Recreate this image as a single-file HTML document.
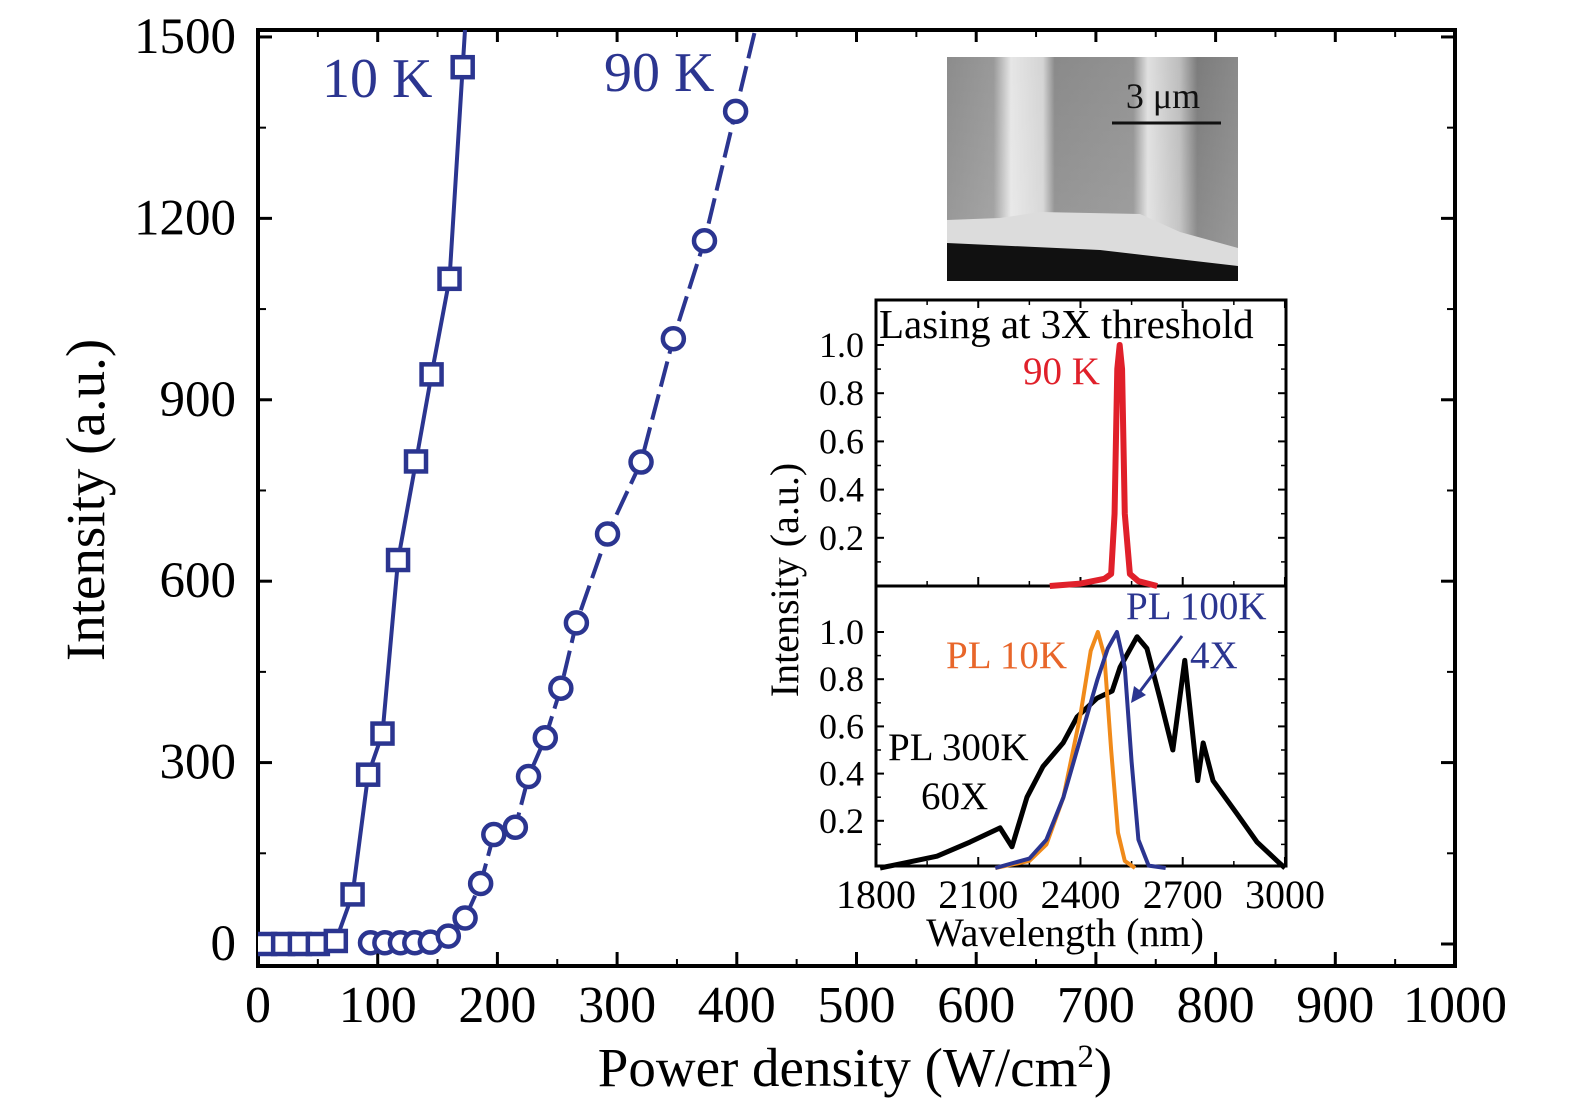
<!DOCTYPE html>
<html><head><meta charset="utf-8"><style>
html,body{margin:0;padding:0;background:#fff}
svg{display:block;font-family:"Liberation Serif",serif}
</style></head><body>
<svg id="c" width="1575" height="1110" viewBox="0 0 1575 1110" xmlns="http://www.w3.org/2000/svg">
<defs>
<linearGradient id="sem" x1="0" x2="1" y1="0" y2="0">
<stop offset="0" stop-color="#8c8c8c"/><stop offset="0.16" stop-color="#999"/><stop offset="0.22" stop-color="#e6e6e6"/><stop offset="0.33" stop-color="#d4d4d4"/><stop offset="0.37" stop-color="#8a8a8a"/><stop offset="0.64" stop-color="#929292"/><stop offset="0.69" stop-color="#e0e0e0"/><stop offset="0.8" stop-color="#bdbdbd"/><stop offset="0.86" stop-color="#7c7c7c"/><stop offset="1" stop-color="#8a8a8a"/>
</linearGradient>
<linearGradient id="semv" x1="0" x2="0" y1="0" y2="1">
<stop offset="0" stop-color="#fff" stop-opacity="0"/><stop offset="1" stop-color="#fff" stop-opacity="0.15"/>
</linearGradient>
</defs>
<g id="main"></g>
<g id="inset"></g>
</svg>
<script>
const tenK_x=[6,21,35,50,65,79,92,104,117,132,145,160,171];
const tenK_y=[0,0,0,0,5,82,280,348,635,798,942,1100,1450];
const ninetyK_x=[94,106,119,131,144,159,173,186,197,215,226,240,253,266,292,320,347,373,399];
const ninetyK_y=[2,2,2,2,3,13,43,100,181,193,277,341,423,531,678,797,1001,1163,1377];
const xTicks=[0,100,200,300,400,500,600,700,800,900,1000];
const yTicks=[0,300,600,900,1200,1500];
const redL=[2310,2400,2470,2490,2500,2508,2515,2522,2530,2545,2570,2625];
const redI=[0,0.01,0.03,0.05,0.3,0.9,1.0,0.9,0.3,0.05,0.02,0];
const orangeL=[2150,2250,2300,2350,2400,2430,2451,2470,2490,2510,2530,2560];
const orangeI=[0,0.03,0.1,0.3,0.65,0.92,1.0,0.9,0.5,0.15,0.03,0];
const blueL=[2150,2250,2300,2350,2400,2450,2480,2507,2530,2550,2570,2600,2650];
const blueI=[0,0.04,0.12,0.3,0.55,0.8,0.93,1.0,0.85,0.45,0.12,0.01,0];
const blackL=[1812,1879,1979,2076,2164,2199,2243,2290,2349,2390,2449,2493,2516,2566,2595,2633,2671,2706,2744,2760,2789,2859,2918,2977,3000];
const blackI=[0,0.02,0.05,0.11,0.17,0.09,0.30,0.43,0.53,0.64,0.72,0.75,0.85,0.98,0.93,0.72,0.50,0.88,0.37,0.53,0.37,0.23,0.11,0.03,0];
const insetXTicks=[1800,2100,2400,2700,3000];
const insetYTicks=[0.2,0.4,0.6,0.8,1.0];

const NS="http://www.w3.org/2000/svg";
function mk(parent,tag,attrs,text){const e=document.createElementNS(NS,tag);for(const k in attrs)e.setAttribute(k,attrs[k]);if(text!==undefined)e.textContent=text;parent.appendChild(e);return e;}
const BLUE="#2b3590";
const X=v=>258+v*1.197, Y=v=>944-v*0.6047;
const main=document.getElementById('main');
const cp=mk(main,'clipPath',{id:'pc'});mk(cp,'rect',{x:258,y:30,width:1197,height:936});
xTicks.forEach(t=>{
 const tk=mk(main,'line',{x1:X(t),x2:X(t),y1:966,y2:952,stroke:'#000','stroke-width':3});
 
 mk(main,'line',{x1:X(t),x2:X(t),y1:30,y2:42,stroke:'#000','stroke-width':3});
 if(t<1000){mk(main,'line',{x1:X(t+50),x2:X(t+50),y1:966,y2:959,stroke:'#000','stroke-width':2});mk(main,'line',{x1:X(t+50),x2:X(t+50),y1:30,y2:37,stroke:'#000','stroke-width':2});}
 const l=mk(main,'text',{x:X(t),y:1022,'font-size':52,'text-anchor':'middle'},String(t));
 
});
yTicks.forEach(t=>{
 mk(main,'line',{x1:258,x2:272,y1:Y(t),y2:Y(t),stroke:'#000','stroke-width':3});
 mk(main,'line',{x1:1455,x2:1441,y1:Y(t),y2:Y(t),stroke:'#000','stroke-width':3});
 if(t<1500){mk(main,'line',{x1:258,x2:266,y1:Y(t+150),y2:Y(t+150),stroke:'#000','stroke-width':2});mk(main,'line',{x1:1455,x2:1447,y1:Y(t+150),y2:Y(t+150),stroke:'#000','stroke-width':2});}
 const l=mk(main,'text',{x:236,y:Y(t)+16,'font-size':51,'text-anchor':'end'},String(t));
 
});
const frame=mk(main,'rect',{x:258,y:30,width:1197,height:936,fill:'none',stroke:'#000','stroke-width':4});

const xt=mk(main,'text',{x:855,y:1086,'font-size':55,'text-anchor':'middle'});

xt.innerHTML='Power density (W/cm<tspan dy="-19" font-size="33">2</tspan><tspan dy="19">)</tspan>';
const yt=mk(main,'text',{x:0,y:0,'font-size':55,'text-anchor':'middle',transform:'translate(104,500) rotate(-90)'},'Intensity (a.u.)');

const g=mk(main,'g',{'clip-path':'url(#pc)'});
let p10=tenK_x.map((v,i)=>X(v)+','+Y(tenK_y[i]));
const n=tenK_x.length;const sl=(Y(tenK_y[n-1])-Y(tenK_y[n-2]))/(X(tenK_x[n-1])-X(tenK_x[n-2]));
p10.push((X(tenK_x[n-1])+(20-Y(tenK_y[n-1]))/sl)+',20');
const l10=mk(g,'polyline',{points:p10.join(' '),fill:'none',stroke:BLUE,'stroke-width':4});

tenK_x.forEach((v,i)=>{const m=mk(g,'rect',{x:X(v)-10,y:Y(tenK_y[i])-10,width:20,height:20,fill:'#fff',stroke:BLUE,'stroke-width':4.5});
 });
let p90=ninetyK_x.map((v,i)=>X(v)+','+Y(ninetyK_y[i]));
const m9=ninetyK_x.length;const s9=(Y(ninetyK_y[m9-1])-Y(ninetyK_y[m9-2]))/(X(ninetyK_x[m9-1])-X(ninetyK_x[m9-2]));
p90.push((X(ninetyK_x[m9-1])+(20-Y(ninetyK_y[m9-1]))/s9)+',20');
const l90=mk(g,'polyline',{points:p90.join(' '),fill:'none',stroke:BLUE,'stroke-width':4,'stroke-dasharray':'26 8'});

ninetyK_x.forEach((v,i)=>{const m=mk(g,'circle',{cx:X(v),cy:Y(ninetyK_y[i]),r:10.5,fill:'#fff',stroke:BLUE,'stroke-width':4.5});
 });
const t10=mk(main,'text',{x:322,y:97,'font-size':56,fill:BLUE},'10 K');
const t90=mk(main,'text',{x:604,y:91,'font-size':56,fill:BLUE},'90 K');

const ins=document.getElementById('inset');
const sem=mk(ins,'g',{});
mk(sem,'rect',{x:947,y:57,width:291,height:224,fill:'url(#sem)'});
mk(sem,'rect',{x:947,y:57,width:291,height:224,fill:'url(#semv)'});
mk(sem,'polygon',{points:'947,220 1000,218 1040,212 1140,214 1180,232 1238,248 1238,270 947,245',fill:'#dcdcdc'});
mk(sem,'polygon',{points:'947,243 1100,250 1238,266 1238,281 947,281',fill:'#111'});
mk(sem,'line',{x1:1112,x2:1221,y1:123,y2:123,stroke:'#111','stroke-width':3});
const sb=mk(sem,'text',{x:1163,y:108,'font-size':36,'text-anchor':'middle',fill:'#111'},'3 μm');

const LX=v=>876+(v-1800)*0.3408;
const TY=v=>586-v*241, BY=v=>868-v*236;
const box=mk(ins,'rect',{x:876,y:300,width:410,height:566,fill:'#fff',stroke:'#000','stroke-width':3});

mk(ins,'line',{x1:876,x2:1286,y1:586,y2:586,stroke:'#000','stroke-width':3});
insetXTicks.forEach(t=>{
 mk(ins,'line',{x1:LX(t),x2:LX(t),y1:866,y2:857,stroke:'#000','stroke-width':2});
 mk(ins,'line',{x1:LX(t),x2:LX(t),y1:586,y2:577,stroke:'#000','stroke-width':2});
 mk(ins,'line',{x1:LX(t),x2:LX(t),y1:300,y2:308,stroke:'#000','stroke-width':2});
 if(t<3000){[866,586].forEach(b=>mk(ins,'line',{x1:LX(t+150),x2:LX(t+150),y1:b,y2:b-5,stroke:'#000','stroke-width':1.5}));mk(ins,'line',{x1:LX(t+150),x2:LX(t+150),y1:300,y2:305,stroke:'#000','stroke-width':1.5});}
 const l=mk(ins,'text',{x:LX(t),y:908,'font-size':40,'text-anchor':'middle'},String(t));
 
});
insetYTicks.forEach(t=>{
 [TY,BY].forEach(f=>{
  mk(ins,'line',{x1:876,x2:884,y1:f(t),y2:f(t),stroke:'#000','stroke-width':2});
  mk(ins,'line',{x1:1286,x2:1278,y1:f(t),y2:f(t),stroke:'#000','stroke-width':2});
  mk(ins,'line',{x1:876,x2:881,y1:f(t-0.1),y2:f(t-0.1),stroke:'#000','stroke-width':1.5});
  mk(ins,'line',{x1:1286,x2:1281,y1:f(t-0.1),y2:f(t-0.1),stroke:'#000','stroke-width':1.5});
  const l=mk(ins,'text',{x:864,y:f(t)+12,'font-size':36,'text-anchor':'end'},t.toFixed(1));
  
 });
});
const wl=mk(ins,'text',{x:1065,y:946,'font-size':40,'text-anchor':'middle'},'Wavelength (nm)');
const iyl=mk(ins,'text',{x:0,y:0,'font-size':40,'text-anchor':'middle',transform:'translate(798,580) rotate(-90)'},'Intensity (a.u.)');
function curve(L,I,fy,color,w,name){const e=mk(ins,'polyline',{points:L.map((v,i)=>LX(v)+','+fy(I[i])).join(' '),fill:'none',stroke:color,'stroke-width':w,'stroke-linejoin':'round'});
 }
curve(redL,redI,TY,'#e0202a',6,'lasing-90k-curve');
curve(blackL,blackI,BY,'#000',5,'pl-300k-curve');
curve(orangeL,orangeI,BY,'#f08a1a',4,'pl-10k-curve');
curve(blueL,blueI,BY,'#2b3590',4,'pl-100k-curve');
const lt=mk(ins,'text',{x:879,y:338,'font-size':41},'Lasing at 3X threshold');
const r90=mk(ins,'text',{x:1023,y:384,'font-size':39,fill:'#e0202a'},'90 K');
const o10=mk(ins,'text',{x:946,y:668,'font-size':39,fill:'#e8662a'},'PL 10K');
const b100=mk(ins,'text',{x:1126,y:619,'font-size':39,fill:BLUE},'PL 100K');
const b4=mk(ins,'text',{x:1190,y:668,'font-size':39,fill:BLUE},'4X');
const ar=mk(ins,'line',{x1:1182,x2:1138,y1:636,y2:694,stroke:BLUE,'stroke-width':3});
mk(ins,'polygon',{points:'1131,703 1134,686 1146,695',fill:BLUE});
const k3=mk(ins,'text',{x:888,y:760,'font-size':39},'PL 300K');
const k6=mk(ins,'text',{x:921,y:809,'font-size':39},'60X');
</script>
</body></html>
